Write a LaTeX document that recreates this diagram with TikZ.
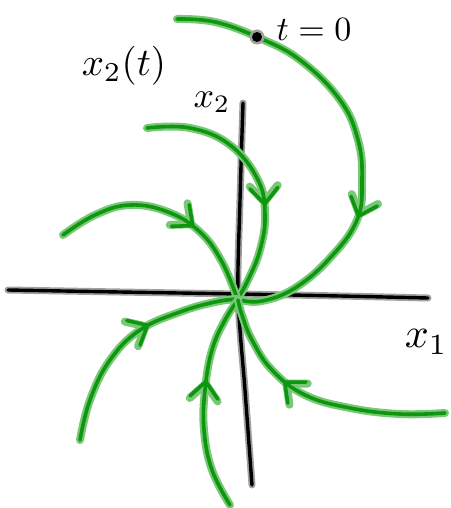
\documentclass[tikz,border=0pt]{standalone}
\usetikzlibrary{decorations.markings,arrows.meta}
\definecolor{gcore}{RGB}{15,150,15}
\definecolor{ghalo}{RGB}{120,200,120}
\definecolor{khalo}{RGB}{160,160,160}
\tikzset{
  haloG/.style={draw=ghalo, line width=8pt, line cap=round, line join=round},
  coreG/.style={draw=gcore, line width=3.6pt, line cap=round, line join=round},
  arrmark/.style={decoration={markings, mark=at position #1 with {\arrow{Straight Barb[length=16pt,width=28pt,round]}}}},
  traj/.style={coreG, preaction={haloG, postaction={decorate}}, postaction={decorate}},
  axis/.style={draw=black, line width=3.4pt, line cap=round, line join=round, preaction={draw=khalo, line width=7pt, line cap=round}},
  lbl/.style={inner sep=0pt, scale=#1},
}
\begin{document}
\begin{tikzpicture}[x=1pt,y=-1pt]
\useasboundingbox (0,0) rectangle (450,508);
% axes
\draw[axis] plot[smooth] coordinates {(8,290) (120,292) (238,294) (340,296) (428,298)};
\draw[axis] plot[smooth] coordinates {(243,103) (240,200) (238,296) (245,390) (252,485)};
% trajectories
\draw[traj, arrmark=0.67] plot[smooth, tension=0.7] coordinates {(177,19) (215,22) (257,37) (300,60) (340,100) (358,140) (362,180) (357,220) (330,258) (295,288) (262,301) (240,300)};
\draw[traj, arrmark=0.62] plot[smooth, tension=0.7] coordinates {(147,128) (190,128) (230,145) (258,180) (265,215) (260,250) (248,280) (238,298)};
\draw[traj, arrmark=0.63] plot[smooth, tension=0.7] coordinates {(63,235) (95,215) (130,205) (168,212) (200,232) (222,262) (237,298)};
\draw[traj, arrmark=0.6] plot[smooth, tension=0.7] coordinates {(80,440) (90,400) (110,360) (140,330) (180,312) (215,302) (238,299)};
\draw[traj, arrmark=0.6] plot[smooth, tension=0.7] coordinates {(230,505) (212,470) (204,430) (205,390) (212,350) (225,320) (238,300)};
\draw[traj, arrmark=0.64] plot[smooth, tension=0.7] coordinates {(445,413) (400,414) (350,408) (305,395) (272,370) (252,340) (242,315) (238,300)};
% initial point
\fill[khalo] (257,37) circle (7.5pt);
\fill[black] (257,37) circle (5pt);
% labels
\node[lbl=3.9] (x2t) at (124,66) {$x_2(t)$};
\node[lbl=3.6] (x2) at (212,102) {$x_2$};
\node[lbl=3.4] (t0) at (314,30) {$t=0$};
\node[lbl=4.2, anchor=west] (x1) at (404,342) {$x_1$};
\end{tikzpicture}
\end{document}
